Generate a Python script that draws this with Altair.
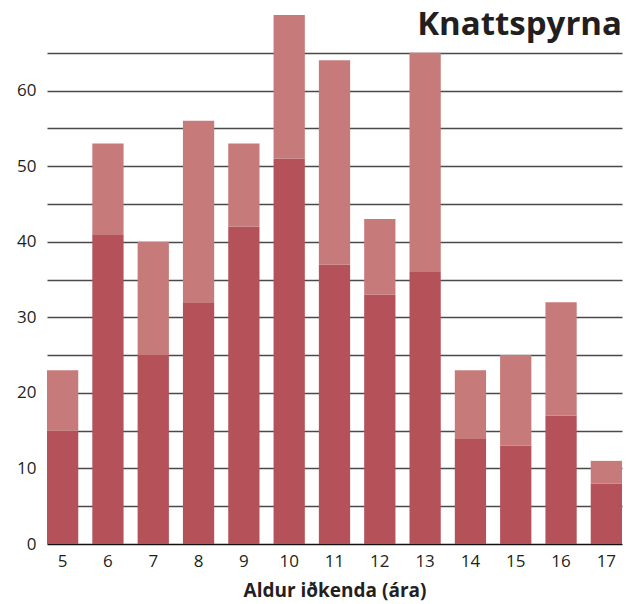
import altair as alt
import pandas as pd

ages = [5, 6, 7, 8, 9, 10, 11, 12, 13, 14, 15, 16, 17]
lower = [15, 41, 25, 32, 42, 51, 37, 33, 36, 14, 13, 17, 8]
totals = [23, 53, 40, 56, 53, 70, 64, 43, 65, 23, 25, 32, 11]

rows = []
for a, lo, t in zip(ages, lower, totals):
    rows.append({"age": str(a), "part": "a", "value": lo})
    rows.append({"age": str(a), "part": "b", "value": t - lo})
df = pd.DataFrame(rows)

FONT = "Open Sans"
TXT = "#231f20"

chart = alt.Chart(df).mark_bar().encode(
    x=alt.X("age:N", sort=[str(a) for a in ages],
            scale=alt.Scale(paddingInner=0.31, paddingOuter=0),
            axis=alt.Axis(title="Aldur iðkenda (ára)", labelAngle=0, ticks=False, domain=False,
                          labelFontSize=17, labelFont=FONT, labelColor=TXT, labelPadding=9,
                          titleFontSize=19, titleFont=FONT, titleFontWeight="bold",
                          titleColor=TXT, titlePadding=12, grid=False)),
    y=alt.Y("value:Q", stack="zero",
            scale=alt.Scale(domain=[0, 70], nice=False),
            axis=alt.Axis(title=None, values=list(range(0, 70, 5)), ticks=False, domain=False,
                          labelExpr="datum.value % 10 == 0 ? datum.label : ''",
                          labelFontSize=17, labelFont=FONT, labelColor=TXT, labelPadding=11,
                          grid=True, gridWidth=1.5,
                          gridColor={"condition": {"test": "datum.value === 0", "value": "#111111"},
                                     "value": "#4a4a4a"})),
    color=alt.Color("part:N", scale=alt.Scale(domain=["a", "b"], range=["#b45159", "#c67a79"]),
                    legend=None),
    order=alt.Order("part:N", sort="ascending"),
).properties(
    width=575, height=529,
    title=alt.TitleParams("Knattspyrna", anchor="end", fontSize=33, font=FONT,
                          fontWeight="bold", color=TXT, dy=31),
    autosize=alt.AutoSizeParams(type="none"),
    padding={"left": 39, "top": 7, "right": 5, "bottom": 60},
).configure_view(stroke=None)

chart.save("out.html", embed_options={"renderer": "svg", "actions": False})
